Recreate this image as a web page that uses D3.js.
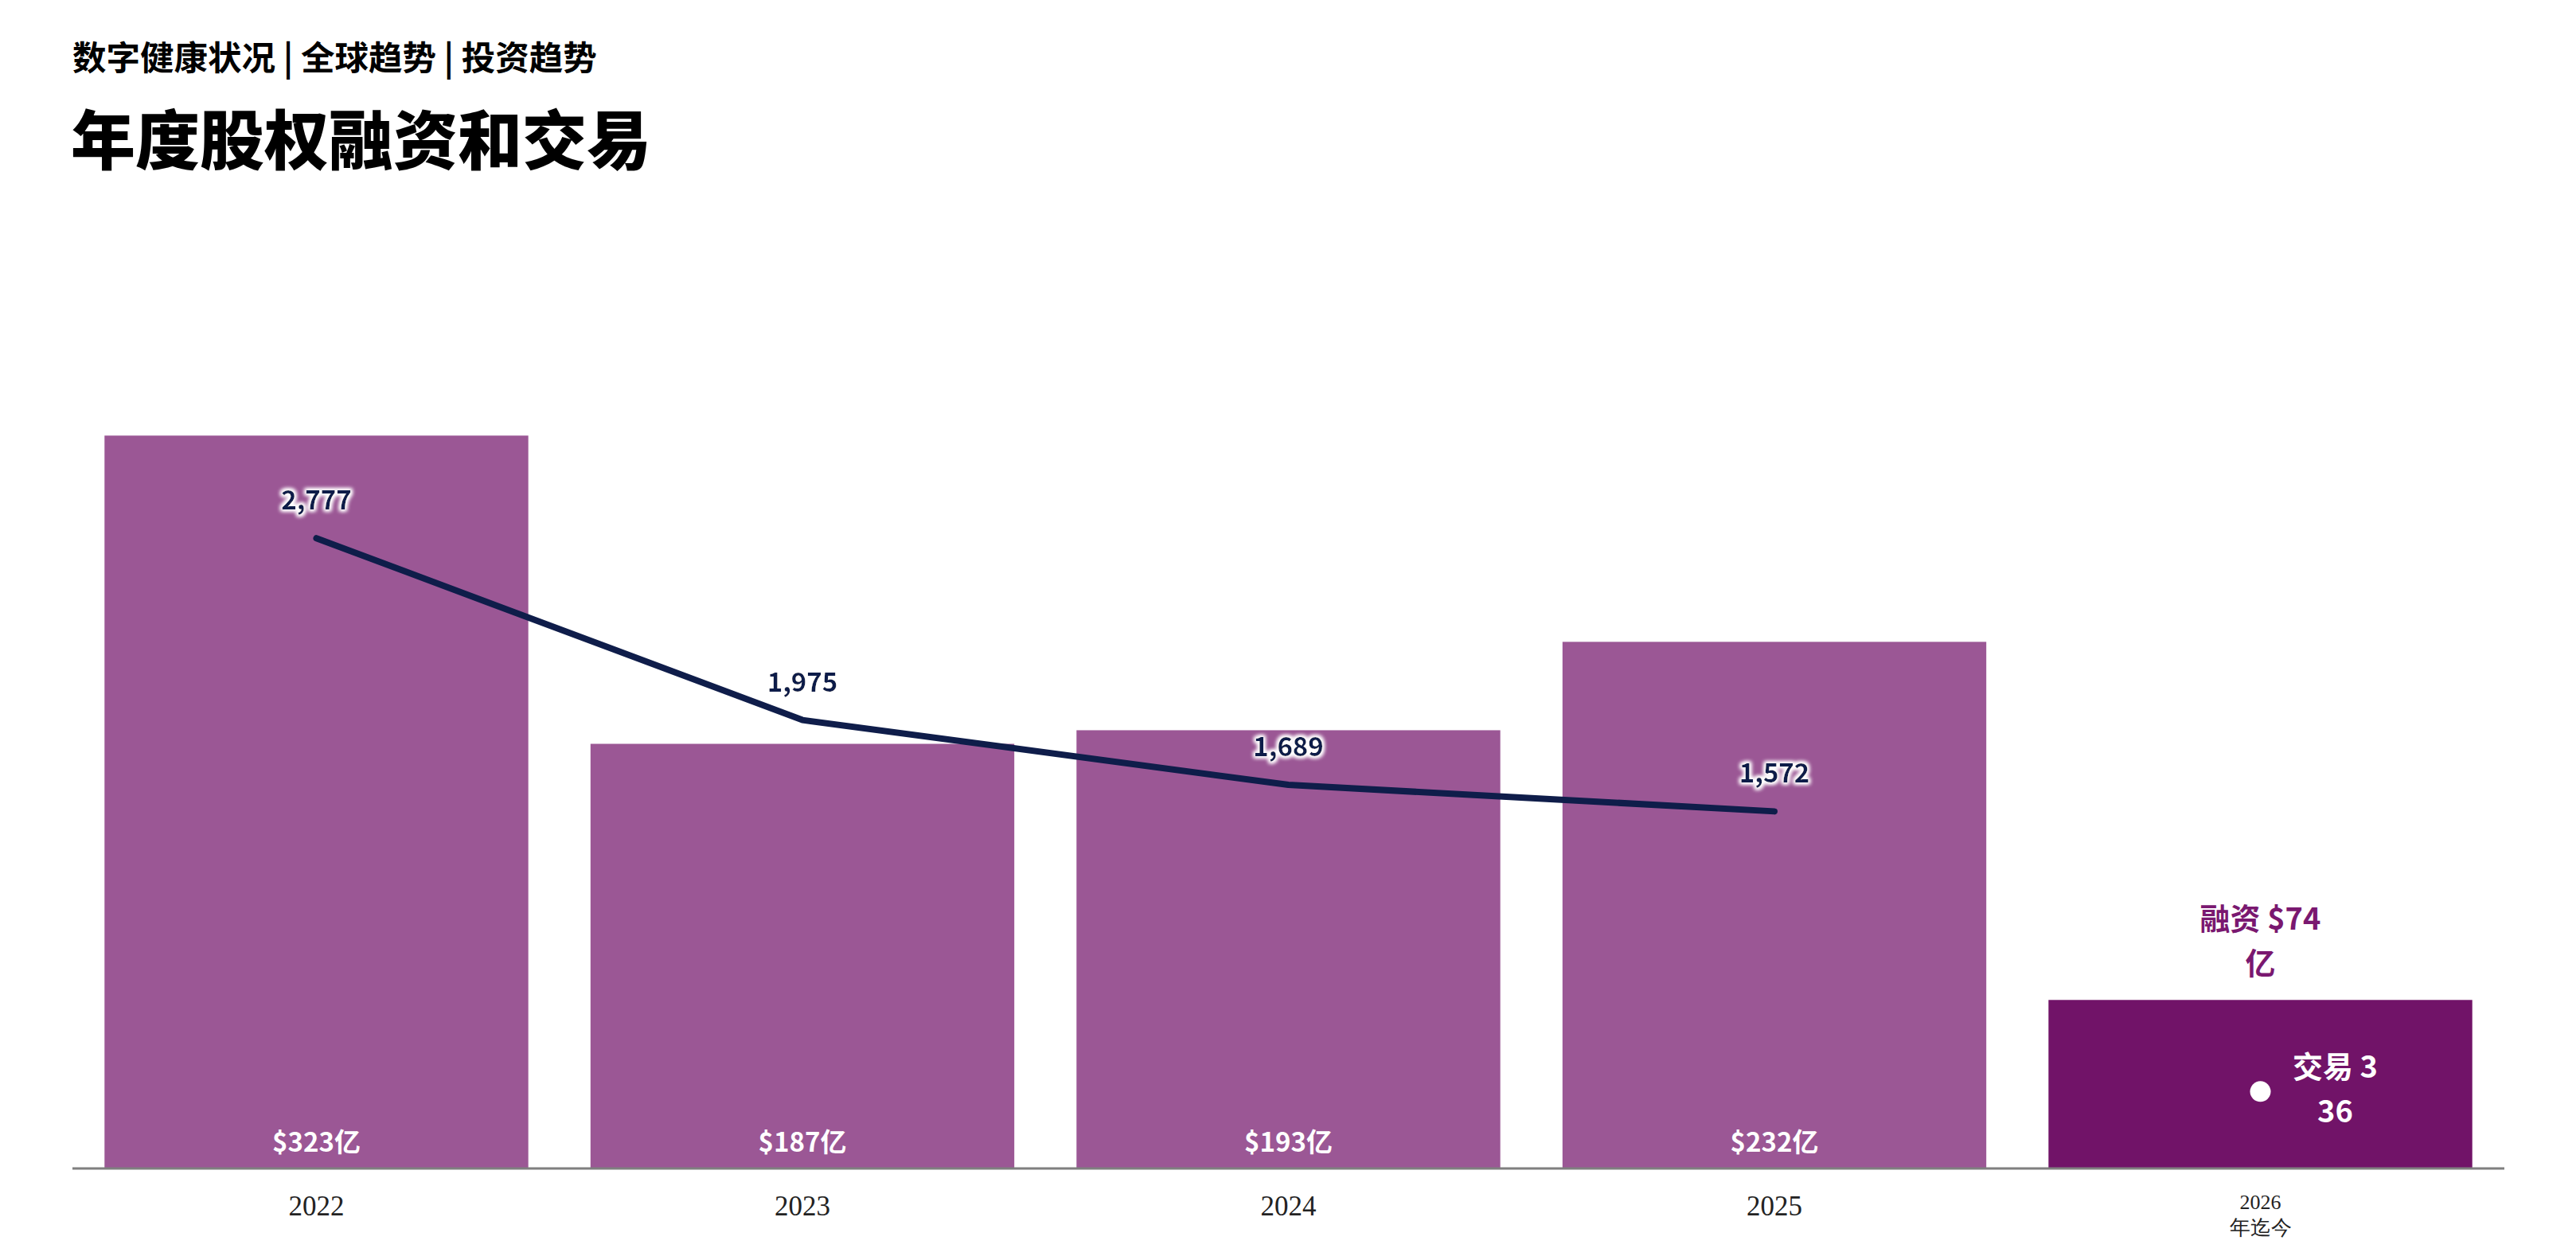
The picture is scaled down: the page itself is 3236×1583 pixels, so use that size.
<!DOCTYPE html>
<html>
<head>
<meta charset="utf-8">
<script src="https://cdn.jsdelivr.net/npm/d3@7"></script>
<style>
  html, body { margin: 0; padding: 0; background: #fff; }
  svg { display: block; }
</style>
</head>
<body>
<div id="chart"></div>
<script>
const years = ['2022', '2023', '2024', '2025', '2026'];
const yearNotes = ['', '', '', '', '年迄今'];
const funding = [323, 187, 193, 232, 74];
const fundingLabels = ['$323亿', '$187亿', '$193亿', '$232亿', '融资 $74|亿'];
const deals = [2777, 1975, 1689, 1572, 336];
const dealLabels = ['2,777', '1,975', '1,689', '1,572', '交易 3|36'];

const width = 3236;
const height = 1583;
const margin = { left: 91, right: 90, top: 328, bottom: 116 };
const FONT = '"Noto Sans CJK SC", "Noto Sans", sans-serif';
const BAR = '#9b5795';
const BAR_YTD = '#711368';
const NAVY = '#0f1d4a';

const svg = d3.select('#chart')
  .append('svg')
  .attr('width', width)
  .attr('height', height);

// soft white glow behind the deal counts
const glow = svg.append('defs').append('filter')
  .attr('id', 'glow')
  .attr('x', '-20%').attr('y', '-40%')
  .attr('width', '140%').attr('height', '180%');
glow.append('feMorphology')
  .attr('in', 'SourceAlpha').attr('operator', 'dilate').attr('radius', 2)
  .attr('result', 'fat');
glow.append('feGaussianBlur')
  .attr('in', 'fat').attr('stdDeviation', 2.5).attr('result', 'blur');
glow.append('feFlood').attr('flood-color', '#fff').attr('result', 'white');
glow.append('feComposite')
  .attr('in', 'white').attr('in2', 'blur').attr('operator', 'in')
  .attr('result', 'halo');
const merge = glow.append('feMerge');
merge.append('feMergeNode').attr('in', 'halo');
merge.append('feMergeNode').attr('in', 'halo');
merge.append('feMergeNode').attr('in', 'SourceGraphic');

// Titles
svg.append('text')
  .attr('x', 91).attr('y', 88)
  .attr('font-family', FONT).attr('font-weight', 700)
  .attr('font-size', 42.5)
  .attr('fill', '#000')
  .text('数字健康状况 | 全球趋势 | 投资趋势');

svg.append('text')
  .attr('x', 89).attr('y', 206)
  .attr('font-family', FONT).attr('font-weight', 900)
  .attr('font-size', 81)
  .attr('fill', '#000')
  .text('年度股权融资和交易');

const x = d3.scaleBand()
  .domain(years)
  .range([margin.left, width - margin.right])
  .paddingInner(0.128)
  .paddingOuter(0.066);

const yBase = height - margin.bottom;
const y = d3.scaleLinear().domain([0, 400]).range([yBase, margin.top]);
const yDeals = d3.scaleLinear().domain([0, 4000]).range([yBase, margin.top]);

const rows = years.map((year, i) => ({
  year, note: yearNotes[i], funding: funding[i], fundingLabel: fundingLabels[i],
  deals: deals[i], dealLabel: dealLabels[i], ytd: i === years.length - 1,
}));

// Bars
svg.append('g')
  .selectAll('rect')
  .data(rows)
  .enter().append('rect')
    .attr('x', d => x(d.year))
    .attr('y', d => y(d.funding))
    .attr('width', x.bandwidth())
    .attr('height', d => yBase - y(d.funding))
    .attr('fill', d => d.ytd ? BAR_YTD : BAR);

// Axis line
svg.append('line')
  .attr('x1', margin.left).attr('x2', width - margin.right)
  .attr('y1', yBase + 1).attr('y2', yBase + 1)
  .attr('stroke', '#7f7f7f').attr('stroke-width', 3);

const cx = d => x(d.year) + x.bandwidth() / 2;

// Funding labels
const full = rows.filter(d => !d.ytd);
const ytd = rows.filter(d => d.ytd);

svg.append('g')
  .selectAll('text')
  .data(full)
  .enter().append('text')
    .attr('x', cx)
    .attr('y', yBase - 20)
    .attr('text-anchor', 'middle')
    .attr('font-family', FONT).attr('font-weight', 700)
    .attr('font-size', 33)
    .attr('fill', '#fff')
    .text(d => d.fundingLabel);

svg.append('g')
  .selectAll('text')
  .data(ytd)
  .enter().append('text')
    .attr('text-anchor', 'middle')
    .attr('font-family', FONT).attr('font-weight', 700)
    .attr('font-size', 38)
    .attr('fill', '#7a1870')
    .each(function(d) {
      const lines = d.fundingLabel.split('|');
      const t = d3.select(this);
      lines.forEach((line, k) => {
        t.append('tspan')
          .attr('x', cx(d))
          .attr('y', y(d.funding) - 32 - (lines.length - 1 - k) * 56)
          .text(line);
      });
    });

// Deal line
const line = d3.line()
  .x(cx)
  .y(d => yDeals(d.deals));

svg.append('path')
  .datum(full)
  .attr('d', line)
  .attr('fill', 'none')
  .attr('stroke', NAVY)
  .attr('stroke-width', 8)
  .attr('stroke-linecap', 'round')
  .attr('stroke-linejoin', 'round');

svg.append('g')
  .selectAll('text')
  .data(full)
  .enter().append('text')
    .attr('x', cx)
    .attr('y', d => yDeals(d.deals) - 36)
    .attr('text-anchor', 'middle')
    .attr('font-family', FONT).attr('font-weight', 700)
    .attr('font-size', 33)
    .attr('fill', NAVY)
    .attr('filter', 'url(#glow)')
    .text(d => d.dealLabel);

// 2026 year-to-date deals
svg.append('g')
  .selectAll('circle')
  .data(ytd)
  .enter().append('circle')
    .attr('cx', cx)
    .attr('cy', d => yDeals(d.deals))
    .attr('r', 13)
    .attr('fill', '#fff');

svg.append('g')
  .selectAll('text')
  .data(ytd)
  .enter().append('text')
    .attr('text-anchor', 'middle')
    .attr('font-family', FONT).attr('font-weight', 700)
    .attr('font-size', 38)
    .attr('fill', '#fff')
    .each(function(d) {
      const lines = d.dealLabel.split('|');
      const t = d3.select(this);
      lines.forEach((lineText, k) => {
        t.append('tspan')
          .attr('x', cx(d) + 94)
          .attr('y', yDeals(d.deals) - 17 + k * 56)
          .text(lineText);
      });
    });

// Year labels
const ticks = svg.append('g')
  .selectAll('text')
  .data(rows)
  .enter().append('text')
    .attr('text-anchor', 'middle')
    .attr('font-family', '"Liberation Serif", serif')
    .attr('fill', '#222');

ticks.each(function(d) {
  const t = d3.select(this);
  if (d.note) {
    t.attr('font-size', 26);
    t.append('tspan').attr('x', cx(d)).attr('y', yBase + 52).text(d.year);
    t.append('tspan').attr('x', cx(d)).attr('y', yBase + 84).text(d.note);
  } else {
    t.attr('font-size', 35);
    t.append('tspan').attr('x', cx(d)).attr('y', yBase + 60).text(d.year);
  }
});
</script>
</body>
</html>
